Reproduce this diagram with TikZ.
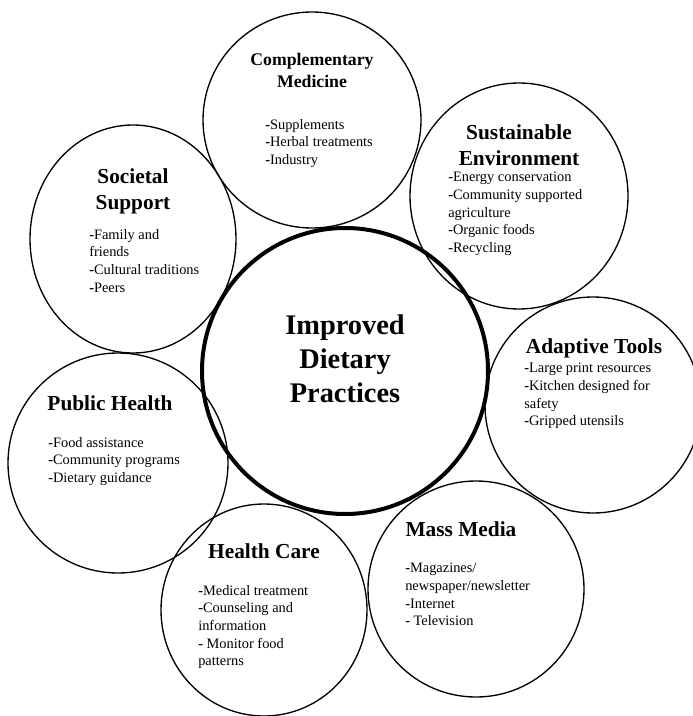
\documentclass[tikz,border=0pt]{standalone}
\usepackage{fontspec}
\setmainfont{Liberation Serif}
\begin{document}
\begin{tikzpicture}[x=0.75pt, y=-0.75pt,
    ring/.style={line width=1pt},
    hub/.style={line width=3pt},
    head/.style={font=\fontsize{16}{19.9}\selectfont\bfseries, align=center, anchor=north, inner sep=0pt},
    items/.style={font=\fontsize{10.8}{13.2}\selectfont, align=left, anchor=north west, inner sep=0pt}]
  \useasboundingbox (0,0) rectangle (692,716);
  % outer rings, then the hub on top
  \foreach \x/\y/\rx/\ry in {312/120/109/108, 519/196/109/113, 133/239/103/114,
      118/463/110/110, 593/405/108/108, 264/610/103/106, 476/589/108/108}
    \draw[ring] (\x,\y) ellipse [x radius=\rx, y radius=\ry];
  \draw[hub] (345,371) circle [radius=143];
  \node[head, font=\fontsize{21.3}{25.5}\selectfont\bfseries] (hub) at (345,315)
    {Improved\\Dietary\\Practices};
  % complementary medicine
  \node[head, font=\fontsize{13.3}{16.5}\selectfont\bfseries] (med) at (312,53)
    {Complementary\\Medicine};
  \node[items] (medlist) at (265,119)
    {\textbf{-}Supplements\\\textbf{-}Herbal treatments\\\textbf{-}Industry};
  % sustainable environment
  \node[head] (env) at (519,124) {Sustainable\\Environment};
  \node[items] (envlist) at (448,172)
    {\textbf{-}Energy conservation\\\textbf{-}Community supported\\agriculture\\
     \textbf{-}Organic foods\\\textbf{-}Recycling};
  % societal support
  \node[head] (soc) at (133,168) {Societal\\Support};
  \node[items] (soclist) at (89,229)
    {\textbf{-}Family and\\friends\\\textbf{-}Cultural traditions\\\textbf{-}Peers};
  % public health
  \node[head] (pub) at (110,395) {Public Health};
  \node[items] (publist) at (48,437)
    {\textbf{-}Food assistance\\\textbf{-}Community programs\\\textbf{-}Dietary guidance};
  % adaptive tools
  \node[head] (tools) at (594,338) {Adaptive Tools};
  \node[items] (toolslist) at (524,363)
    {\textbf{-}Large print resources\\\textbf{-}Kitchen designed for\\safety\\
     \textbf{-}Gripped utensils};
  % health care
  \node[head] (care) at (264,543) {Health Care};
  \node[items] (carelist) at (198,585)
    {\textbf{-}Medical treatment\\\textbf{-}Counseling and\\information\\
     \textbf{-} Monitor food\\patterns};
  % mass media
  \node[head] (media) at (461,521) {Mass Media};
  \node[items] (medialist) at (405,563)
    {\textbf{-}Magazines/\\newspaper/newsletter\\\textbf{-}Internet\\\textbf{-} Television};
\end{tikzpicture}
\end{document}
